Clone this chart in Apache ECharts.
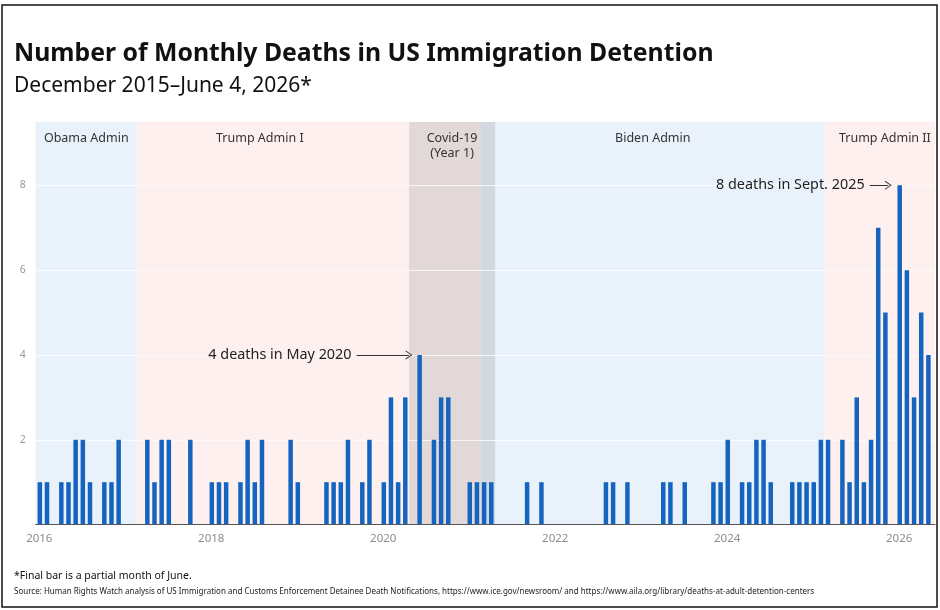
<!DOCTYPE html>
<html>
<head>
<meta charset="utf-8">
<title>Monthly deaths in US immigration detention</title>
<script src="https://cdn.jsdelivr.net/npm/echarts@6/dist/echarts.min.js"></script>
<style>
  html, body { margin: 0; padding: 0; background: #fff; }
  #main { width: 940px; height: 610px; }
</style>
</head>
<body>
<div id="main"></div>
<script>
// one value per month slot, slot 0 = first bar (Dec 2015)
const deaths = [
  1, 1, 0, 1, 1, 2, 2, 1, 0, 1, 1, 2,
  0, 0, 0, 2, 1, 2, 2, 0, 0, 2, 0, 0,
  1, 1, 1, 0, 1, 2, 1, 2, 0, 0, 0, 2,
  1, 0, 0, 0, 1, 1, 1, 2, 0, 1, 2, 0,
  1, 3, 1, 3, 0, 4, 0, 2, 3, 3, 0, 0,
  1, 1, 1, 1, 0, 0, 0, 0, 1, 0, 1, 0,
  0, 0, 0, 0, 0, 0, 0, 1, 1, 0, 1, 0,
  0, 0, 0, 1, 1, 0, 1, 0, 0, 0, 1, 1,
  2, 0, 1, 1, 2, 2, 1, 0, 0, 1, 1, 1,
  1, 2, 2, 0, 2, 1, 3, 1, 2, 7, 5, 0,
  8, 6, 3, 5, 4
];

const yearTicks = [0, 24, 48, 72, 96, 120];
const yearLabels = ['2016', '2018', '2020', '2022', '2024', '2026'];

const eras = [
  { name: 'Obama Admin', from: '2015-11-16', to: '2017-01-20', kind: 'dem' },
  { name: 'Trump Admin I', from: '2017-01-20', to: '2021-01-20', kind: 'rep' },
  { name: 'Biden Admin', from: '2021-01-20', to: '2025-01-20', kind: 'dem' },
  { name: 'Trump Admin II', from: '2025-01-20', to: '2026-05-01', kind: 'rep' },
  { name: 'Covid-19\n(Year 1)', from: '2020-03-20', to: '2021-03-20', kind: 'covid' }
];

const notes = [
  { text: '4 deaths in May 2020', value: 4, from: 44.2, to: 51.5 },
  { text: '8 deaths in Sept. 2025', value: 8, from: 115.8, to: 118.4 }
];

// date -> fractional month slot
function monthPos(s) {
  const [y, m, d] = s.split('-').map(Number);
  return (y - 2015) * 12 + (m - 12) + (d - 1) / 31;
}

const eraColor = { dem: '#e9f2fb', rep: '#fdf0ee', covid: 'rgba(122,118,126,0.2)' };
const labelShift = { 'Trump Admin I': -49, 'Trump Admin II': 5 };
const arrowHead = 'path://M0,10 L5,0 L10,10 L9,10.6 L5,2.2 L1,10.6 Z';
const font = '"Noto Sans", "Open Sans", sans-serif';

const chart = echarts.init(document.getElementById('main'));

chart.setOption({
  animation: false,
  textStyle: { fontFamily: font },
  title: [
    {
      text: 'Number of Monthly Deaths in US Immigration Detention',
      subtext: 'December 2015\u2013June 4, 2026*',
      left: 14,
      top: 39,
      padding: 0,
      itemGap: 4,
      textStyle: { fontFamily: font, fontSize: 24.8, fontWeight: 'bold', color: '#111', lineHeight: 30 },
      subtextStyle: { fontFamily: font, fontSize: 21, color: '#111', lineHeight: 26 }
    },
    {
      text: '*Final bar is a partial month of June.',
      subtext: 'Source: Human Rights Watch analysis of US Immigration and Customs Enforcement Detainee Death Notifications, https://www.ice.gov/newsroom/ and https://www.aila.org/library/deaths-at-adult-detention-centers',
      left: 14,
      top: 569,
      padding: 0,
      itemGap: 3,
      textStyle: { fontFamily: font, fontSize: 10.5, fontWeight: 'normal', color: '#111', lineHeight: 14 },
      subtextStyle: { fontFamily: font, fontSize: 8, color: '#222', lineHeight: 11 }
    }
  ],
  grid: { left: 35.7, right: 5, top: 121.7, bottom: 85.4, containLabel: false },
  xAxis: {
    type: 'value',
    min: -0.5,
    max: 125,
    z: 4,
    axisLine: { show: true, lineStyle: { color: '#555', width: 1 } },
    axisTick: { show: false },
    splitLine: { show: false },
    axisLabel: {
      customValues: yearTicks,
      formatter: (v) => yearLabels[yearTicks.indexOf(v)] || '',
      color: '#8c8c8c',
      fontSize: 11.5,
      margin: 8
    }
  },
  yAxis: {
    type: 'value',
    min: 0,
    max: 9.5,
    interval: 2,
    z: 2,
    axisLine: { show: false },
    axisTick: { show: false },
    splitLine: { lineStyle: { color: 'rgba(255,255,255,0.75)', width: 1 } },
    axisLabel: {
      formatter: (v) => (v > 0 && v % 2 === 0 ? String(v) : ''),
      color: '#9a9a9a',
      fontSize: 10.5,
      margin: 10
    }
  },
  series: [
    {
      name: 'eras',
      type: 'bar',
      data: [],
      z: 1,
      silent: true,
      markArea: {
        silent: true,
        label: { show: true, position: 'insideTop', distance: 9, color: '#333', fontSize: 12.5, lineHeight: 15 },
        data: eras.map((e) => [
          {
            name: e.name,
            xAxis: monthPos(e.from),
            itemStyle: { color: eraColor[e.kind] },
            label: { offset: [labelShift[e.name] || 0, 0] }
          },
          { xAxis: monthPos(e.to) }
        ])
      }
    },
    {
      name: 'Deaths',
      type: 'bar',
      z: 3,
      barWidth: 4.5,
      itemStyle: { color: '#1565c0' },
      data: deaths.map((v, i) => [i, v]),
      markLine: {
        silent: true,
        symbol: ['none', arrowHead],
        symbolSize: [9, 7],
        lineStyle: { color: '#333', width: 1, type: 'solid' },
        label: { show: true, position: 'start', distance: 5, color: '#222', fontSize: 14.4 },
        data: notes.map((n) => [
          { name: n.text, coord: [n.from, n.value] },
          { coord: [n.to, n.value] }
        ])
      }
    }
  ],
  graphic: [
    {
      type: 'rect',
      silent: true,
      z: 100,
      shape: { x: 2, y: 5, width: 935, height: 602 },
      style: { fill: 'none', stroke: '#111', lineWidth: 1.5 }
    }
  ]
});
</script>
</body>
</html>
